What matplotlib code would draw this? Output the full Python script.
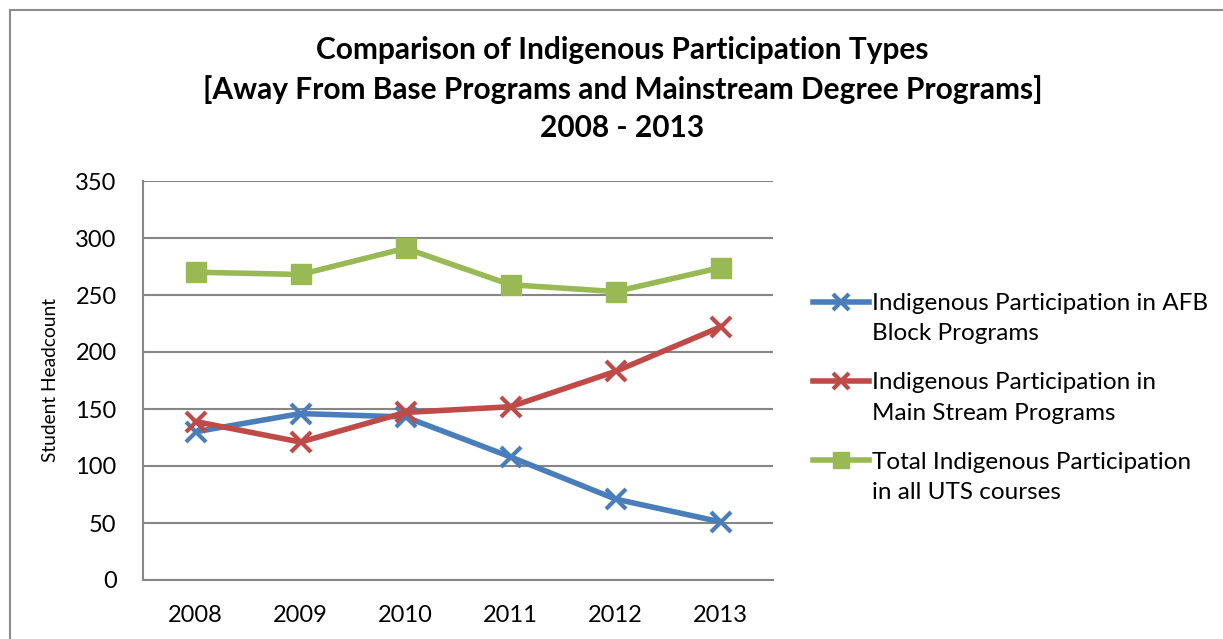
import matplotlib.pyplot as plt
from matplotlib.patches import Rectangle

years = ["2008", "2009", "2010", "2011", "2012", "2013"]
afb_block = [130, 146, 143, 108, 71, 51]
main_stream = [139, 121, 147, 152, 183, 222]
total_uts = [270, 268, 291, 259, 253, 274]

labels = ["Indigenous Participation in AFB\nBlock Programs",
          "Indigenous Participation in\nMain Stream Programs",
          "Total Indigenous Participation\nin all UTS courses"]

plt.rcParams['font.family'] = ['Lato', 'DejaVu Sans']

fig = plt.figure(figsize=(12.23, 6.39), dpi=100)
# outer chart frame
fig.patches.append(Rectangle((10 / 1223, -0.1), 1.2, 1 - 10 / 639 + 0.1,
                             transform=fig.transFigure, fill=False,
                             edgecolor='#8c8c8c', lw=1.5))

ax = fig.add_axes([143 / 1223, 1 - 580 / 639, 630 / 1223, 399 / 639])
x = range(len(years))

ax.plot(x, afb_block, color='#4a7ebb', lw=4, marker='x', ms=14, mew=3, label=labels[0])
ax.plot(x, main_stream, color='#be4b48', lw=4, marker='x', ms=14, mew=3, label=labels[1])
ax.plot(x, total_uts, color='#98b954', lw=4, marker='s', ms=14, label=labels[2])

ax.set_xlim(-0.5, 5.5)
ax.set_ylim(0, 350)
ax.set_yticks(range(0, 351, 50))
ax.set_xticks(list(x))
ax.set_xticklabels(years)
ax.tick_params(axis='both', labelsize=17, length=0)
ax.tick_params(axis='y', pad=19)
ax.tick_params(axis='x', pad=18)
ax.grid(axis='y', color='#868686', lw=1.5)
ax.set_axisbelow(True)
for s in ['top', 'right']:
    ax.spines[s].set_visible(False)
for s in ['left', 'bottom']:
    ax.spines[s].set_color('#868686')
    ax.spines[s].set_linewidth(1.5)
ax.set_ylabel("Student Headcount", fontsize=13.8)
ax.yaxis.set_label_coords(-0.133, 0.5)

fig.text(0.509, 1 - 89 / 639, "Comparison of Indigenous Participation Types\n"
         "[Away From Base Programs and Mainstream Degree Programs]\n2008 - 2013",
         ha='center', va='center', fontsize=21.5, fontweight='bold', linespacing=1.45)

leg = ax.legend(loc='center left', bbox_to_anchor=(803 / 1223, 1 - 398 / 639),
                bbox_transform=fig.transFigure, frameon=False, fontsize=17.5,
                handlelength=2.3, labelspacing=1.15, handletextpad=0.15, borderaxespad=0,
                markerscale=0.8)
for t in leg.get_texts():
    t.set_linespacing(1.55)
# put each handle level with the first line of its label
for col in leg._legend_handle_box.get_children():
    for item in col.get_children():
        item.align = 'top'

fig.savefig("out.png", dpi=100)
